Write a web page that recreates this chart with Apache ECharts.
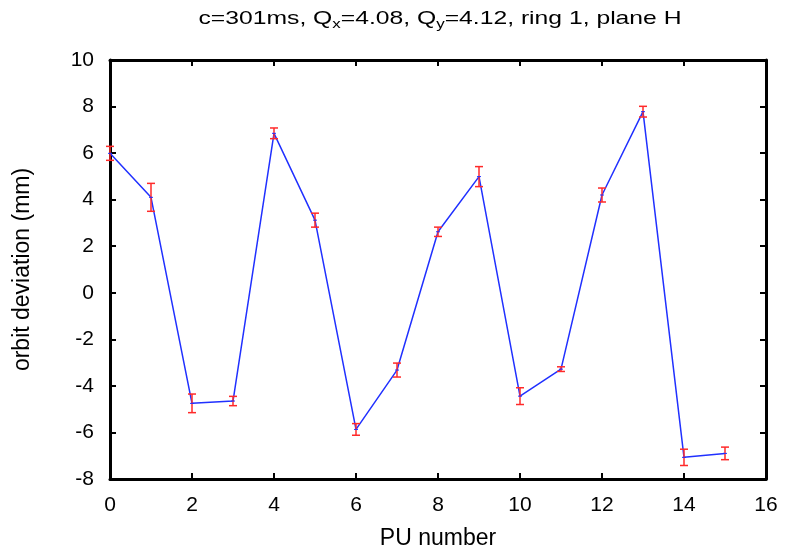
<!DOCTYPE html>
<html><head><meta charset="utf-8">
<script src="https://cdn.jsdelivr.net/npm/echarts@6/dist/echarts.min.js"></script>
<style>html,body{margin:0;padding:0;background:#fff}#c{width:787px;height:556px}</style>
</head><body><div id="c"></div>
<script>
const puNumbers = [0,1,2,3,4,5,6,7,8,9,10,11,12,13,14,15];
const orbitDeviation = [5.99,4.1,-4.75,-4.65,6.85,3.12,-5.87,-3.32,2.62,4.99,-4.44,-3.28,4.2,7.78,-7.07,-6.9];
const errors = [0.3,0.6,0.4,0.2,0.23,0.3,0.25,0.3,0.2,0.43,0.36,0.1,0.3,0.23,0.35,0.27];
const xTicks = [0,2,4,6,8,10,12,14,16];
const yTicks = [-8,-6,-4,-2,0,2,4,6,8,10];

const font = 'Liberation Sans, Arial, sans-serif';
const chart = echarts.init(document.getElementById('c'));
const lineData = puNumbers.map((x,i)=>[x, orbitDeviation[i]]);
const errData = puNumbers.map((x,i)=>[x, orbitDeviation[i]-errors[i], orbitDeviation[i]+errors[i]]);

const axisCommon = {
  axisLine:{show:true, onZero:false, lineStyle:{color:'#000', width:3}},
  axisTick:{show:true, inside:true, length:6, lineStyle:{color:'#000', width:2}},
  splitLine:{show:false}
};

chart.setOption({
  animation:false,
  backgroundColor:'#fff',
  graphic:[{
    type:'text', x:440, y:19, scaleX:1.3, scaleY:1,
    style:{
      text:'{n|c=301ms, Q}{s|x}{n|=4.08, Q}{s|y}{n|=4.12, ring 1, plane H}',
      textAlign:'center', textVerticalAlign:'middle',
      rich:{
        n:{fontFamily:font, fontSize:19, fill:'#000', color:'#000'},
        s:{fontFamily:font, fontSize:13, fill:'#000', color:'#000', padding:[10,0,0,0]}
      }
    }
  }],
  grid:{left:110, right:21, top:60, bottom:77},
  xAxis:[
    Object.assign({type:'value', min:0, max:16, interval:2, position:'bottom',
      name:'PU number', nameLocation:'middle', nameGap:48,
      nameTextStyle:{fontFamily:font, fontSize:23, color:'#000'},
      axisLabel:{fontFamily:font, fontSize:21, color:'#000', margin:16}}, axisCommon),
    Object.assign({type:'value', min:0, max:16, interval:2, position:'top', axisLabel:{show:false}}, axisCommon)
  ],
  yAxis:[
    Object.assign({type:'value', min:-8, max:10, interval:2, position:'left',
      name:'orbit deviation (mm)', nameLocation:'middle', nameGap:76,
      nameTextStyle:{fontFamily:font, fontSize:23, color:'#000'},
      axisLabel:{fontFamily:font, fontSize:21, color:'#000', margin:16}}, axisCommon),
    Object.assign({type:'value', min:-8, max:10, interval:2, position:'right', axisLabel:{show:false}}, axisCommon)
  ],
  series:[
    {type:'line', data:lineData, symbol:'none', lineStyle:{color:'#2030ff', width:1.5}, z:3},
    {type:'custom', data:errData, z:4,
      renderItem:function(params, api){
        const x = api.value(0);
        const lo = api.coord([x, api.value(1)]);
        const hi = api.coord([x, api.value(2)]);
        const c = api.coord([x, (api.value(1)+api.value(2))/2]);
        const w = 4;
        const st = {stroke:'#ff2a2a', lineWidth:1.5};
        return {type:'group', children:[
          {type:'line', shape:{x1:hi[0],y1:hi[1],x2:lo[0],y2:lo[1]}, style:st},
          {type:'line', shape:{x1:hi[0]-w,y1:hi[1],x2:hi[0]+w,y2:hi[1]}, style:st},
          {type:'line', shape:{x1:lo[0]-w,y1:lo[1],x2:lo[0]+w,y2:lo[1]}, style:st},
          {type:'line', shape:{x1:c[0]-2,y1:c[1],x2:c[0]+2,y2:c[1]}, style:{stroke:'#2030ff', lineWidth:1}}
        ]};
      }
    }
  ]
});
</script></body></html>
